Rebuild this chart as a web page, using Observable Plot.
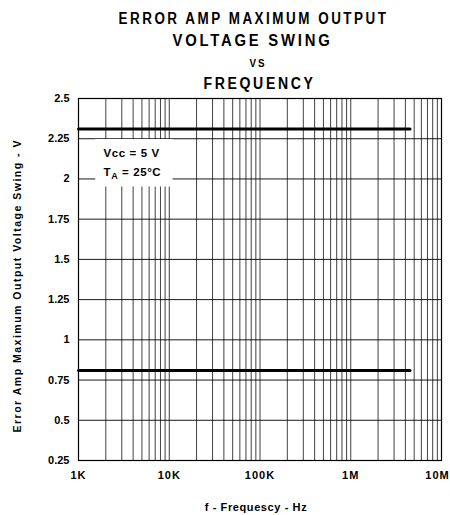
<!DOCTYPE html>
<html><head><meta charset="utf-8">
<script src="https://cdn.jsdelivr.net/npm/d3@7"></script>
<script src="https://cdn.jsdelivr.net/npm/@observablehq/plot@0.6"></script>
<style>
body{margin:0;background:#fff}
#chart svg{font-family:"Liberation Sans",Arial,sans-serif;font-weight:bold}
</style>
</head><body><div id="chart"></div>
<script>
// ---- data ----
const freqTicks = [1e3, 1e4, 1e5, 1e6, 1e7];
const freqTickLabels = ["1K", "10K", "100K", "1M", "10M"];
const voltTicks = [0.25, 0.5, 0.75, 1, 1.25, 1.5, 1.75, 2, 2.25, 2.5];
const voltTickLabels = ["0.25", "0.5", "0.75", "1", "1.25", "1.5", "1.75", "2", "2.25", "2.5"];
const seriesFreq = [1e3, 4.5e6];
const swingHigh = [2.31, 2.31];
const swingLow = [0.81, 0.81];
const titleLines = ["ERROR AMP MAXIMUM OUTPUT", "VOLTAGE SWING", "VS", "FREQUENCY"];
const noteLines = ["Vcc = 5 V", "TA = 25°C"];
const xLabel = "f - Frequescy - Hz";
const yLabel = "Error Amp Maximum Output Voltage Swing - V";
// annotation box extent in data units
const noteBox = [{x1: 1550, x2: 11000, y1: 1.95, y2: 2.245}];

// minor grid: 1..9 per decade
const gridFreqs = [];
for (let d = 1e3; d < 1e7; d *= 10) for (let k = 1; k <= 9; k++) gridFreqs.push(k * d);
gridFreqs.push(1e7);

const highData = seriesFreq.map((f, i) => ({f, v: swingHigh[i]}));
const lowData = seriesFreq.map((f, i) => ({f, v: swingLow[i]}));
const xFmt = d => freqTickLabels[freqTicks.indexOf(d)];
const yFmt = d => voltTickLabels[voltTicks.indexOf(d)];

// title styling
const titleDy = [-80, -58, -35, -15];
const titleDx = [-6.5, -7.5, -2, -0.5];
const titleSizes = [16, 16, 10, 16];
const titleWidths = [270, 160, 17, 112];

const chart = Plot.plot({
  width: 450,
  height: 515,
  marginLeft: 78,
  marginRight: 9,
  marginTop: 98,
  marginBottom: 55,
  style: {fontSize: "11px", fontWeight: "bold", color: "black", background: "white"},
  x: {type: "log", domain: [1e3, 1e7]},
  y: {domain: [0.25, 2.5]},
  marks: [
    Plot.gridX(gridFreqs, {stroke: "#000", strokeOpacity: 0.75, strokeWidth: 1}),
    Plot.gridY(voltTicks, {stroke: "#000", strokeOpacity: 0.9, strokeWidth: 1}),
    Plot.rect(noteBox, {x1: "x1", x2: "x2", y1: "y1", y2: "y2", fill: "white"}),
    Plot.frame({stroke: "black", strokeWidth: 1.2}),
    Plot.line(highData, {x: "f", y: "v", stroke: "black", strokeWidth: 3}),
    Plot.line(lowData, {x: "f", y: "v", stroke: "black", strokeWidth: 3}),
    Plot.axisX({ticks: freqTicks, tickFormat: xFmt, tickSize: 0, tickPadding: 11, label: null, fontSize: 11, fontWeight: "bold"}),
    Plot.axisY({ticks: voltTicks, tickFormat: yFmt, tickSize: 0, tickPadding: 9, label: null, fontSize: 11, fontWeight: "bold"}),
    ...titleLines.map((t, i) => Plot.text([t], {
      text: d => d, frameAnchor: "top", lineAnchor: "middle", dy: titleDy[i], dx: titleDx[i],
      fontSize: titleSizes[i], fontWeight: "bold", ariaDescription: "title" + i
    })),
    ...noteLines.map((t, i) => Plot.text([t], {
      text: d => d, frameAnchor: "top-left", textAnchor: "start", lineAnchor: "middle", dx: 25, dy: 55 + i * 19,
      fontSize: 11.5, fontWeight: "bold", ariaDescription: "note"
    })),
    Plot.text([xLabel], {text: d => d, frameAnchor: "bottom", lineAnchor: "middle", dy: 47, dx: -4, fontSize: 11, fontWeight: "bold", ariaDescription: "xlabel"}),
    Plot.text([yLabel], {text: d => d, frameAnchor: "left", textAnchor: "middle", lineAnchor: "middle", dx: -61, dy: 7, rotate: -90, fontSize: 10.5, fontWeight: "bold", ariaDescription: "ylabel"})
  ]
});

const svg = d3.select(chart);
titleLines.forEach((t, i) => {
  svg.selectAll(`g[aria-description="title${i}"] text`)
    .attr("textLength", titleWidths[i])
    .attr("lengthAdjust", "spacingAndGlyphs")
    .attr("letter-spacing", i === 2 ? 2 : 3);
});
svg.selectAll('g[aria-description="note"] text').attr("letter-spacing", 0.6);
svg.selectAll('g[aria-description="xlabel"] text').attr("letter-spacing", 0.6);
svg.selectAll('g[aria-description="ylabel"] text').attr("textLength", 292).attr("lengthAdjust", "spacing");
svg.selectAll('g[aria-label="x-axis tick label"] text').attr("letter-spacing", 1);
// keep the last x tick label inside the picture
svg.selectAll('g[aria-label="x-axis tick label"] text').filter(function() { return d3.select(this).text() === "10M"; }).attr("dx", -4);
// subscript A in T_A
svg.selectAll('g[aria-description="note"] text').each(function() {
  const el = d3.select(this);
  const s = el.text();
  if (s.startsWith("TA")) {
    el.text("");
    el.append("tspan").text("T");
    el.append("tspan").attr("dy", 3).attr("font-size", 9).text("A");
    el.append("tspan").attr("dy", -3).text(s.slice(2));
  }
});
document.getElementById("chart").appendChild(chart);
</script>
</body></html>
